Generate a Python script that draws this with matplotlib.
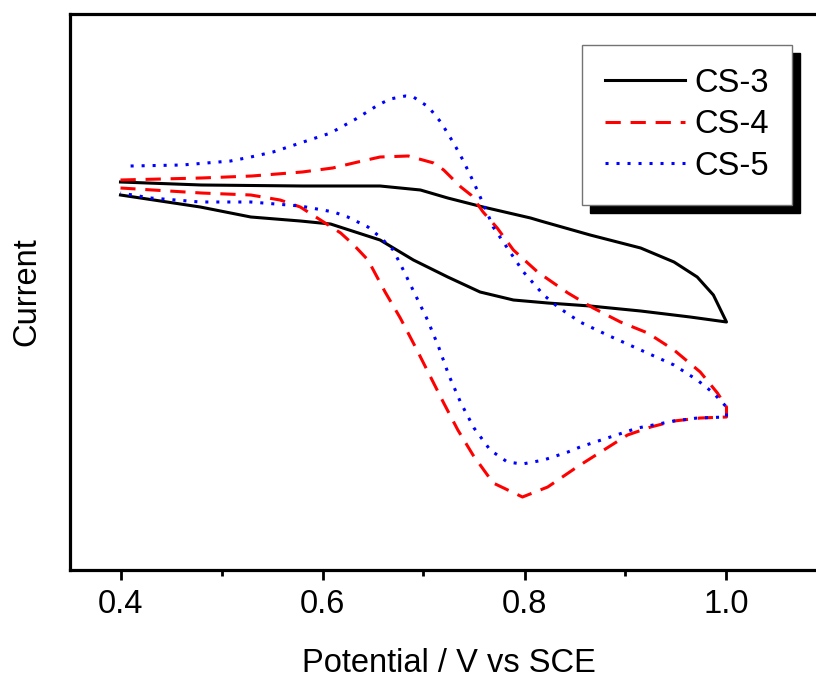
import matplotlib
matplotlib.use("Agg")
from matplotlib import pyplot as plt

plt.rcParams['font.family'] = ['Liberation Sans', 'DejaVu Sans']

# CS-3: forward scan (0.4 -> 1.0 V) then reverse scan (1.0 -> 0.4 V)
cs3_v_fwd = [0.40, 0.48, 0.58, 0.61, 0.657, 0.697, 0.724, 0.759, 0.806, 0.816, 0.865, 0.915, 0.948, 0.971, 0.987, 1.0]
cs3_i_fwd = [11.8, 11.5, 11.4, 11.4, 11.4, 11.0, 10.2, 9.3, 8.2, 7.9, 6.5, 5.2, 3.8, 2.3, 0.5, -2.2]
cs3_v_rev = [1.0, 0.964, 0.915, 0.865, 0.823, 0.789, 0.756, 0.724, 0.690, 0.657, 0.608, 0.578, 0.529, 0.479, 0.40]
cs3_i_rev = [-2.2, -1.7, -1.1, -0.6, -0.3, 0.0, 0.8, 2.3, 4.0, 6.0, 7.6, 7.9, 8.3, 9.3, 10.5]

# CS-4
cs4_v_fwd = [0.40, 0.48, 0.53, 0.58, 0.61, 0.635, 0.657, 0.685, 0.71, 0.72, 0.737, 0.747, 0.759, 0.773,
             0.789, 0.813, 0.843, 0.868, 0.895, 0.922, 0.948, 0.974, 0.991, 1.0]
cs4_i_fwd = [12.0, 12.2, 12.4, 12.8, 13.2, 13.8, 14.3, 14.4, 13.7, 13.0, 11.3, 10.5, 8.8, 7.2,
             5.0, 2.8, 0.7, -0.8, -2.2, -3.3, -5.0, -7.2, -9.3, -10.7]
cs4_v_rev = [1.0, 0.974, 0.948, 0.925, 0.902, 0.852, 0.823, 0.798, 0.769, 0.749, 0.734, 0.72, 0.707,
             0.692, 0.677, 0.662, 0.645, 0.631, 0.618, 0.578, 0.558, 0.529, 0.48, 0.40]
cs4_i_rev = [-11.7, -11.8, -12.1, -12.7, -13.5, -16.7, -18.7, -19.7, -18.3, -15.5, -13.0, -10.3, -7.7,
             -4.7, -1.8, 0.8, 4.0, 5.5, 6.7, 9.3, 10.0, 10.5, 10.7, 11.2]

# CS-5
cs5_v_fwd = [0.41, 0.461, 0.509, 0.529, 0.551, 0.608, 0.633, 0.655, 0.667, 0.682, 0.69, 0.705, 0.717,
             0.725, 0.732, 0.739, 0.75, 0.761, 0.769, 0.783, 0.799, 0.819, 0.833, 0.855, 0.882,
             0.915, 0.948, 0.971, 0.987, 1.0]
cs5_i_fwd = [13.4, 13.5, 13.9, 14.3, 14.8, 16.7, 18.1, 19.5, 20.1, 20.4, 20.3, 19.3, 17.8,
             16.5, 15.3, 14.0, 11.7, 9.2, 7.3, 5.2, 2.8, 0.5, -0.7, -2.2, -3.5,
             -5.0, -6.5, -8.0, -9.3, -10.7]
cs5_v_rev = [1.0, 0.971, 0.948, 0.912, 0.882, 0.855, 0.843, 0.819, 0.798, 0.783, 0.766, 0.75, 0.737,
             0.725, 0.715, 0.704, 0.692, 0.68, 0.67, 0.657, 0.645, 0.625, 0.611, 0.578, 0.529,
             0.479, 0.43, 0.40]
cs5_i_rev = [-11.7, -11.8, -12.1, -12.8, -13.8, -14.7, -15.2, -16.0, -16.4, -16.2, -15.0, -12.8, -10.3,
             -7.5, -4.7, -2.0, 0.5, 3.0, 5.0, 6.3, 7.3, 8.3, 8.8, 9.4, 9.8,
             9.8, 10.2, 10.7]

fig = plt.figure(figsize=(8.16, 6.82), dpi=100)
ax = fig.add_axes([70/816, 112/682, 757.5/816, 556/682])

ax.plot(cs3_v_fwd + cs3_v_rev, cs3_i_fwd + cs3_i_rev, color="black", lw=2.2, label="CS-3")
ax.plot(cs4_v_fwd + cs4_v_rev, cs4_i_fwd + cs4_i_rev, color="red", lw=2.2,
        linestyle=(0, (5, 3.2)), label="CS-4")
ax.plot(cs5_v_fwd + cs5_v_rev, cs5_i_fwd + cs5_i_rev, color="blue", lw=2.2,
        linestyle=(0, (1, 2.6)), label="CS-5")

ax.set_xlim(0.35, 1.1)
ax.set_ylim(-27.0, 28.6)
ax.set_xticks([0.4, 0.6, 0.8, 1.0])
ax.set_xticklabels(["0.4", "0.6", "0.8", "1.0"])
ax.set_xticks([0.5, 0.7, 0.9], minor=True)
ax.tick_params(axis="x", which="major", direction="out", length=7, width=2, labelsize=23.5, pad=7)
ax.tick_params(axis="x", which="minor", direction="out", length=4, width=2)
ax.set_yticks([])
for s in ["left", "bottom", "top"]:
    ax.spines[s].set_linewidth(2.3)
ax.spines["right"].set_visible(False)

ax.set_xlabel("Potential / V vs SCE", fontsize=23.5, labelpad=20)
ax.set_ylabel("Current", fontsize=23.5, labelpad=20)

leg = ax.legend(loc="upper right", bbox_to_anchor=(792/816, 1 - 45/682), bbox_transform=fig.transFigure,
                borderaxespad=0, fontsize=23.5, handlelength=2.45, handletextpad=0.3, labelspacing=0.32,
                borderpad=0.7, fancybox=False, framealpha=1,
                shadow={"color": "black", "alpha": 1, "ox": 6, "oy": -6})
leg.get_frame().set_edgecolor("0.45")
leg.get_frame().set_linewidth(1.0)

fig.savefig("out.png", dpi=100)
